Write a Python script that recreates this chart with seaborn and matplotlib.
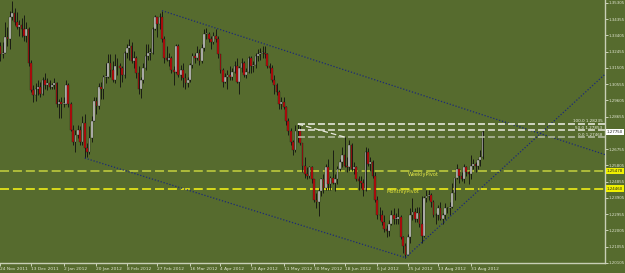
import matplotlib
matplotlib.use('Agg')
import matplotlib.pyplot as plt
import numpy as np
import pandas as pd
import seaborn as sns

# EURUSD daily candles, 24 Nov 2011 - 7 Sep 2012 (open = previous close)
dates = pd.bdate_range('2011-11-24', '2012-09-07')
first_open = 1.3280
closes = [
    1.3230, 1.3240, 1.3330, 1.3320, 1.3450,
    1.3470, 1.3420, 1.3390, 1.3400, 1.3380, 1.3340, 1.3380, 1.3180, 1.3020, 1.2990, 1.3030,
    1.3040, 1.3000, 1.3080, 1.3050, 1.3060, 1.3040, 1.3050, 1.3060, 1.2940, 1.2950, 1.2940,
    1.2940, 1.3050, 1.2940, 1.2790, 1.2720, 1.2760, 1.2790, 1.2720, 1.2830, 1.2680, 1.2660,
    1.2740, 1.2840, 1.2960, 1.2930, 1.3040, 1.3030, 1.3100, 1.3100, 1.3180, 1.3140, 1.3080,
    1.3160, 1.3160, 1.3150, 1.3110, 1.3240, 1.3270, 1.3280, 1.3190, 1.3210, 1.3120, 1.3030,
    1.3080, 1.3150, 1.3220, 1.3240, 1.3240, 1.3380, 1.3450, 1.3410, 1.3450, 1.3320,
    1.3210, 1.3200, 1.3210, 1.3140, 1.3130, 1.3280, 1.3110, 1.3140, 1.3090, 1.3060, 1.3080,
    1.3170, 1.3220, 1.3210, 1.3240, 1.3190, 1.3270, 1.3350, 1.3350, 1.3320, 1.3300, 1.3340,
    1.3320, 1.3230, 1.3140, 1.3070, 1.3100, 1.3110, 1.3100, 1.3130, 1.3160, 1.3070, 1.3150,
    1.3180, 1.3110, 1.3130, 1.3210, 1.3160, 1.3170, 1.3220, 1.3230, 1.3240, 1.3240,
    1.3230, 1.3160, 1.3150, 1.3080, 1.3050, 1.3010, 1.2940, 1.2950, 1.2920, 1.2840, 1.2780,
    1.2720, 1.2670, 1.2780, 1.2780, 1.2710, 1.2580, 1.2530, 1.2520, 1.2570, 1.2500, 1.2380,
    1.2370,
    1.2430, 1.2500, 1.2450, 1.2570, 1.2470, 1.2510, 1.2480, 1.2500, 1.2560, 1.2600, 1.2640,
    1.2580, 1.2570, 1.2700, 1.2560, 1.2570, 1.2500, 1.2490, 1.2480, 1.2440, 1.2660,
    1.2590, 1.2600, 1.2520, 1.2380, 1.2290, 1.2290, 1.2250, 1.2210, 1.2200, 1.2240, 1.2290,
    1.2270, 1.2270, 1.2280, 1.2160, 1.2110, 1.2060, 1.2160, 1.2290, 1.2310, 1.2270, 1.2300,
    1.2240, 1.2170, 1.2390, 1.2400, 1.2410, 1.2370, 1.2290, 1.2290, 1.2330, 1.2270, 1.2290,
    1.2330, 1.2330, 1.2340, 1.2420, 1.2510, 1.2560, 1.2520, 1.2500, 1.2570, 1.2540, 1.2530,
    1.2580,
    1.2590, 1.2580, 1.2610, 1.2630, 1.2775,
]
highs = [
    1.3300, 1.3300, 1.3420, 1.3390, 1.3485,
    1.3540, 1.3500, 1.3480, 1.3430, 1.3440, 1.3460, 1.3420, 1.3390, 1.3200, 1.3050, 1.3060,
    1.3080, 1.3070, 1.3100, 1.3120, 1.3090, 1.3080, 1.3060, 1.3090, 1.3070, 1.2970, 1.2980,
    1.2980, 1.3080, 1.3060, 1.2950, 1.2820, 1.2790, 1.2815, 1.2810, 1.2870, 1.2880, 1.2710,
    1.2810, 1.2870, 1.2980, 1.2980, 1.3060, 1.3070, 1.3110, 1.3180, 1.3230, 1.3230, 1.3190,
    1.3230, 1.3210, 1.3180, 1.3160, 1.3250, 1.3290, 1.3320, 1.3300, 1.3250, 1.3220, 1.3160,
    1.3100, 1.3180, 1.3290, 1.3290, 1.3270, 1.3390, 1.3460, 1.3450, 1.3470, 1.3486,
    1.3340, 1.3280, 1.3240, 1.3220, 1.3160, 1.3290, 1.3290, 1.3170, 1.3180, 1.3120, 1.3100,
    1.3180, 1.3240, 1.3240, 1.3280, 1.3260, 1.3290, 1.3380, 1.3385, 1.3360, 1.3340, 1.3360,
    1.3380, 1.3340, 1.3230, 1.3150, 1.3120, 1.3140, 1.3160, 1.3150, 1.3190, 1.3210, 1.3160,
    1.3210, 1.3190, 1.3150, 1.3220, 1.3220, 1.3190, 1.3240, 1.3260, 1.3270, 1.3280,
    1.3280, 1.3240, 1.3180, 1.3170, 1.3110, 1.3060, 1.3020, 1.2980, 1.2980, 1.2930, 1.2860,
    1.2800, 1.2730, 1.2820, 1.2823, 1.2810, 1.2710, 1.2630, 1.2570, 1.2580, 1.2580, 1.2500,
    1.2420,
    1.2450, 1.2510, 1.2530, 1.2590, 1.2620, 1.2520, 1.2672, 1.2530, 1.2580, 1.2620, 1.2690,
    1.2747, 1.2630, 1.2730, 1.2710, 1.2600, 1.2580, 1.2520, 1.2520, 1.2500, 1.2690,
    1.2680, 1.2630, 1.2610, 1.2540, 1.2400, 1.2340, 1.2320, 1.2290, 1.2230, 1.2260, 1.2320,
    1.2330, 1.2300, 1.2330, 1.2290, 1.2170, 1.2130, 1.2180, 1.2330, 1.2390, 1.2330, 1.2340,
    1.2340, 1.2400, 1.2400, 1.2440, 1.2440, 1.2420, 1.2380, 1.2300, 1.2350, 1.2370, 1.2300,
    1.2360, 1.2340, 1.2370, 1.2480, 1.2510, 1.2590, 1.2560, 1.2540, 1.2590, 1.2580, 1.2550,
    1.2640,
    1.2620, 1.2600, 1.2620, 1.2670, 1.2790,
]
lows = [
    1.3190, 1.3211, 1.3240, 1.3280, 1.3260,
    1.3430, 1.3400, 1.3380, 1.3340, 1.3330, 1.3310, 1.3300, 1.3160, 1.3010, 1.2950, 1.2960,
    1.2990, 1.2980, 1.2990, 1.3030, 1.3020, 1.3030, 1.3030, 1.3030, 1.2920, 1.2860, 1.2860,
    1.2920, 1.2940, 1.2920, 1.2780, 1.2700, 1.2660, 1.2740, 1.2700, 1.2700, 1.2624, 1.2630,
    1.2650, 1.2720, 1.2840, 1.2880, 1.2910, 1.2970, 1.2970, 1.3060, 1.3090, 1.3100, 1.3070,
    1.3060, 1.3110, 1.3040, 1.3070, 1.3090, 1.3210, 1.3200, 1.3180, 1.3150, 1.3090, 1.3000,
    1.2975, 1.3060, 1.3140, 1.3200, 1.3200, 1.3230, 1.3370, 1.3330, 1.3380, 1.3300,
    1.3180, 1.3190, 1.3160, 1.3120, 1.3050, 1.3120, 1.3100, 1.3080, 1.3040, 1.3030, 1.3040,
    1.3070, 1.3150, 1.3180, 1.3200, 1.3170, 1.3180, 1.3250, 1.3320, 1.3300, 1.3260, 1.3290,
    1.3300, 1.3210, 1.3120, 1.3040, 1.3060, 1.3030, 1.3080, 1.3080, 1.3120, 1.3060, 1.3000,
    1.3130, 1.3100, 1.3090, 1.3120, 1.3120, 1.3130, 1.3150, 1.3190, 1.3200, 1.3210,
    1.3210, 1.3150, 1.3120, 1.3070, 1.3000, 1.2990, 1.2910, 1.2910, 1.2910, 1.2820, 1.2760,
    1.2700, 1.2640, 1.2660, 1.2720, 1.2700, 1.2540, 1.2510, 1.2500, 1.2510, 1.2480, 1.2370,
    1.2330,
    1.2288, 1.2400, 1.2420, 1.2440, 1.2440, 1.2440, 1.2470, 1.2430, 1.2470, 1.2550, 1.2570,
    1.2570, 1.2540, 1.2550, 1.2550, 1.2530, 1.2490, 1.2440, 1.2450, 1.2400, 1.2430,
    1.2580, 1.2550, 1.2510, 1.2370, 1.2270, 1.2260, 1.2230, 1.2190, 1.2160, 1.2170, 1.2230,
    1.2240, 1.2240, 1.2240, 1.2150, 1.2070, 1.2042, 1.2060, 1.2130, 1.2260, 1.2250, 1.2250,
    1.2220, 1.2130, 1.2160, 1.2370, 1.2380, 1.2340, 1.2280, 1.2240, 1.2260, 1.2260, 1.2240,
    1.2270, 1.2300, 1.2290, 1.2330, 1.2380, 1.2500, 1.2480, 1.2490, 1.2480, 1.2520, 1.2470,
    1.2500,
    1.2560, 1.2540, 1.2560, 1.2580, 1.2620,
]

price_ticks = [1.20105, 1.21055, 1.22005, 1.22955, 1.23905, 1.24855, 1.25805, 1.26755,
               1.27705, 1.28655, 1.29605, 1.30555, 1.31505, 1.32455, 1.33405, 1.34355, 1.35305]
date_ticks = ['2011-11-24', '2011-12-13', '2012-01-02', '2012-01-20', '2012-02-08',
              '2012-02-27', '2012-03-16', '2012-04-04', '2012-04-23', '2012-05-11',
              '2012-05-30', '2012-06-18', '2012-07-06', '2012-07-25', '2012-08-13', '2012-08-31']

# trend lines: two anchors (date, price)
upper_line = [('2012-02-29', 1.3486), ('2012-08-31', 1.2899)]    # ray to the right
lower_line = [('2012-01-13', 1.2624), ('2012-07-24', 1.2042)]    # segment
rising_line = [('2012-07-24', 1.2042), ('2012-08-02', 1.2130)]   # ray to the right

fibo_anchor = [('2012-05-21', 1.28235), ('2012-06-18', 1.27468)]
fibo_levels = [1.28235, 1.27853, 1.27468]
fibo_names = ['100.0', '50.0', '0.0']

weekly_pivot = 1.25478
monthly_pivot = 1.24460
weekly_label_date = '2012-07-25'
monthly_label_date = '2012-07-12'

BG = '#566b2e'
FG = '#dfe3cf'

sns.set_style('dark', rc={'axes.facecolor': BG, 'figure.facecolor': BG})
plt.rcParams['font.family'] = ['DejaVu Sans']
plt.rcParams['lines.scale_dashes'] = False

fig = plt.figure(figsize=(6.25, 2.73), dpi=100)
ax = fig.add_axes([0, 10 / 273, 605 / 625, 263 / 273])

idx = {d: i for i, d in enumerate(dates)}
def pos(d):
    return idx[pd.Timestamp(d)]

x = np.arange(len(dates))
c = np.array(closes)
o = np.concatenate([[first_open], c[:-1]])
h = np.maximum(np.array(highs), np.maximum(o, c))
l = np.minimum(np.array(lows), np.minimum(o, c))
up = c >= o

# wicks
ax.vlines(x, l, h, color='#101010', lw=0.6, zorder=3)
# bodies
body = np.abs(c - o)
body = np.where(body < 0.0003, 0.0003, body)
bottom = np.minimum(o, c)
ax.bar(x[up], body[up], bottom=bottom[up], width=0.72, color='#c9c9c4',
       edgecolor='#1a1a1a', linewidth=0.25, zorder=4)
ax.bar(x[~up], body[~up], bottom=bottom[~up], width=0.72, color='#c20a0a',
       edgecolor='#1a1a1a', linewidth=0.25, zorder=4)

xmin, xmax = -0.2, 258.3
ymin, ymax = 1.20105, 1.35480

def line_pts(anchor, ray):
    (d0, p0), (d1, p1) = anchor
    x0, x1 = pos(d0), pos(d1)
    if ray:
        slope = (p1 - p0) / (x1 - x0)
        x1, p1 = xmax, p0 + slope * (xmax - x0)
    return [x0, x1], [p0, p1]

navy = '#1c2a78'
for anchor, ray in [(upper_line, True), (lower_line, False), (rising_line, True)]:
    xs, ys = line_pts(anchor, ray)
    sns.lineplot(x=xs, y=ys, ax=ax, color=navy, lw=0.9, dashes=False,
                 linestyle=(0, (0.9, 1.3)), zorder=5)

# pivots
ax.axhline(weekly_pivot, color='#b5c23c', lw=1.3, dashes=(6.5, 2.8), zorder=2)
ax.axhline(monthly_pivot, color='#e2e21a', lw=1.3, dashes=(6.5, 2.8), zorder=2)
ax.text(pos(weekly_label_date), weekly_pivot - 0.0003, 'WeeklyPivot', color='#e4e84a',
        fontsize=3.6, va='top', ha='left', zorder=6)
ax.text(pos(monthly_label_date), monthly_pivot - 0.0003, 'MonthlyPivot', color='#e8e83a',
        fontsize=3.6, va='top', ha='left', zorder=6)

# fibonacci
fx0 = pos(fibo_anchor[0][0])
fib_cols = ['#f2f2ea', '#e8e8de', '#b9bfa8']
for lev, name, col in zip(fibo_levels, fibo_names, fib_cols):
    ax.plot([fx0, xmax], [lev, lev], color=col, lw=1.1, dashes=(5, 2.2), zorder=5)
    ax.text(xmax - 1.0, lev + 0.0003, f'{name} {lev:.5f}', color='#ecefe0',
            fontsize=3.0, ha='right', va='bottom', zorder=6)
ax.plot([pos(fibo_anchor[0][0]), pos(fibo_anchor[1][0])],
        [fibo_anchor[0][1], fibo_anchor[1][1]], color='#e8e8de', lw=0.9,
        dashes=(4, 2.2), zorder=5)

ax.set_xlim(xmin, xmax)
ax.set_ylim(ymin, ymax)

for s in ['top', 'left']:
    ax.spines[s].set_visible(False)
for s in ['right', 'bottom']:
    ax.spines[s].set_visible(True)
    ax.spines[s].set_color('#c8cfb6')
    ax.spines[s].set_linewidth(1.0)

ax.yaxis.tick_right()
ax.set_yticks(price_ticks)
ax.set_yticklabels([f'{p:.5f}' for p in price_ticks])
ax.tick_params(axis='y', direction='out', length=1.8, width=0.6, pad=0.8,
               labelsize=2.9, colors=FG, right=True, left=False)

ax.set_xticks([pos(d) for d in date_ticks])
ax.set_xticklabels([f'{pd.Timestamp(d).day} {pd.Timestamp(d):%b %Y}' for d in date_ticks],
                   ha='left')
ax.tick_params(axis='x', direction='out', length=2, width=0.6, pad=1.0,
               labelsize=3.2, colors=FG, bottom=True)
ax.set_xlabel('')
ax.set_ylabel('')
ax.grid(False)

# price boxes on the scale
trans = ax.get_yaxis_transform()
for val, fc in [(closes[-1], '#ffffff'), (weekly_pivot, '#f0f000'), (monthly_pivot, '#f0f000')]:
    ax.text(1.003, val, f'{val:.5f}', transform=trans, fontsize=2.9, color='#202020',
            va='center', ha='left', zorder=10, clip_on=False,
            bbox=dict(boxstyle='square,pad=0.25', fc=fc, ec='none'))

fig.savefig('out.png', dpi=100, facecolor=BG)
